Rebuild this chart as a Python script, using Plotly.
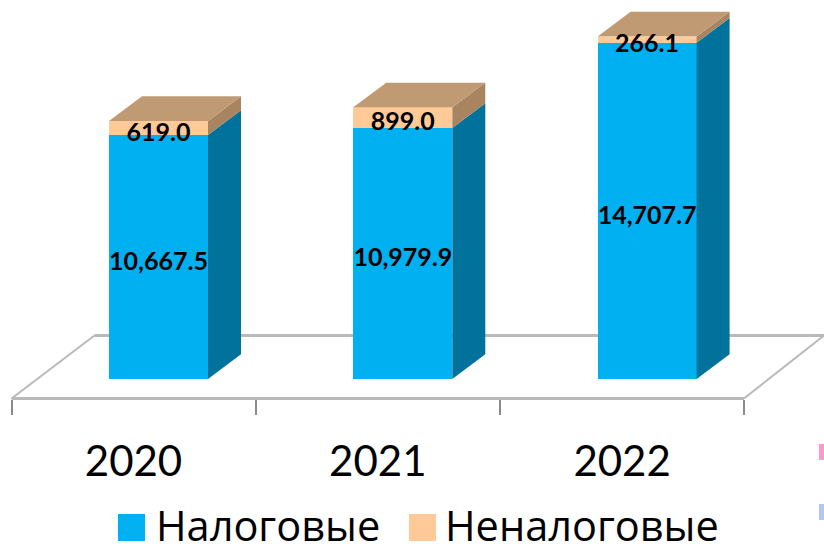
import plotly.graph_objects as go

categories = ["2020", "2021", "2022"]
tax = [10667.5, 10979.9, 14707.7]
nontax = [619.0, 899.0, 266.1]
tax_labels = ["10,667.5", "10,979.9", "14,707.7"]
nontax_labels = ["619.0", "899.0", "266.1"]
series_names = ["Налоговые", "Неналоговые"]

W, H = 824, 544
X0, XS = 158.5, 244.3       # px of first bar centre, px per category
Y0, YS = 379.0, 0.02287     # px of value zero, px per value unit
BAR = 99.0
DEPTH_X, DEPTH_Y = 33.0, 24.7
BLUE, BLUE_SIDE = "#00B0F0", "#00729C"
ORANGE, ORANGE_SIDE, ORANGE_TOP = "#FFC998", "#A88560", "#C09A72"
FONT = "Lato, Open Sans, sans-serif"
LEGEND_FONT = "Open Sans, Lato, sans-serif"

dx, dy = DEPTH_X / XS, DEPTH_Y / YS
bw = BAR / XS
xs = list(range(len(categories)))
px_x = lambda p: (p - X0) / XS
px_y = lambda p: (Y0 - p) / YS


def faces(bases, tops, kind):
    fx, fy = [], []
    for x, b, t in zip(xs, bases, tops):
        r = x + bw / 2
        l = x - bw / 2
        if kind == "side":
            fx += [r, r + dx, r + dx, r, r, None]
            fy += [b, b + dy, t + dy, t, b, None]
        else:
            fx += [l, r, r + dx, l + dx, l, None]
            fy += [t, t, t + dy, t + dy, t, None]
    return fx, fy


totals = [a + b for a, b in zip(tax, nontax)]
zeros = [0] * len(tax)

fig = go.Figure()
fig.add_bar(x=xs, y=tax, width=bw, marker=dict(color=BLUE, line_width=0), name=series_names[0], showlegend=False)
fig.add_bar(x=xs, y=nontax, width=bw, marker=dict(color=ORANGE, line_width=0), name=series_names[1], showlegend=False)

for (bases, tops, kind, col) in [
    (zeros, tax, "side", BLUE_SIDE),
    (tax, totals, "side", ORANGE_SIDE),
    (totals, totals, "top", ORANGE_TOP),
]:
    fx, fy = faces(bases, tops, kind)
    fig.add_scatter(x=fx, y=fy, mode="lines", fill="toself", fillcolor=col,
                    line=dict(width=0, color=col), hoverinfo="skip", showlegend=False)

label_font = dict(family=FONT, size=25, color="black", weight="bold")
LABEL_DROP = 6.5 / YS
fig.add_scatter(x=xs, y=[v / 2 - LABEL_DROP for v in tax], mode="text", text=tax_labels,
                textfont=label_font, textposition="middle center", showlegend=False)
fig.add_scatter(x=xs, y=[a + b / 2 - LABEL_DROP for a, b in zip(tax, nontax)], mode="text", text=nontax_labels,
                textfont=label_font, textposition="middle center", showlegend=False)

# floor, drawn beneath the bars
fl_l, fl_r = px_x(11.5), px_x(744.0)
fl_y = px_y(398.5)
back_y = px_y(335.5)
back_l, back_r = px_x(94.5), px_x(824.0)
GRAY = "#B9B9B9"
shapes = [
    dict(type="line", layer="below", x0=back_l, x1=back_r, y0=back_y, y1=back_y, line=dict(color=GRAY, width=3)),
    dict(type="line", layer="below", x0=fl_l, x1=back_l, y0=fl_y, y1=back_y, line=dict(color=GRAY, width=2)),
    dict(type="line", layer="below", x0=fl_r, x1=back_r, y0=fl_y, y1=back_y, line=dict(color=GRAY, width=2)),
    dict(type="line", layer="below", x0=fl_l, x1=fl_r, y0=fl_y, y1=fl_y, line=dict(color=GRAY, width=3)),
]


# legend keys and stray marks at the right edge
def rect(x0, x1, y0, y1, col):
    return dict(type="rect", xref="paper", yref="paper", x0=x0 / W, x1=x1 / W,
                y0=1 - y1 / H, y1=1 - y0 / H, fillcolor=col, line_width=0)


shapes += [rect(118, 145, 514, 541, BLUE), rect(409, 436, 514, 541, ORANGE),
           rect(819, 824, 444, 460, "#FF99CC"), rect(819, 824, 504, 520, "#B4C7F0")]

annotations = [
    dict(xref="paper", yref="paper", x=154 / W, y=1 - 525 / H, text=series_names[0], showarrow=False,
         xanchor="left", yanchor="middle", font=dict(family=LEGEND_FONT, size=41.5, color="black")),
    dict(xref="paper", yref="paper", x=443 / W, y=1 - 525 / H, text=series_names[1], showarrow=False,
         xanchor="left", yanchor="middle", font=dict(family=LEGEND_FONT, size=41.5, color="black")),
]

band_shift = 25 / XS
boundaries = [px_x(11.5) + i for i in range(len(categories) + 1)]

fig.update_layout(
    width=W, height=H, margin=dict(l=0, r=0, t=0, b=0), barmode="stack",
    paper_bgcolor="white", plot_bgcolor="white", showlegend=False,
    shapes=shapes, annotations=annotations,
    xaxis=dict(range=[px_x(0), px_x(W)], anchor="free", position=1 - 398.5 / H, side="bottom",
               tickmode="array", tickvals=[x - band_shift for x in xs], ticktext=categories,
               ticks="", ticklabelstandoff=34, showgrid=False, zeroline=False,
               tickfont=dict(family=FONT, size=42, color="black"),
               showline=False,
               minor=dict(tickmode="array", tickvals=boundaries, ticks="outside", ticklen=15,
                          tickwidth=2, tickcolor="#8C8C8C", showgrid=False)),
    yaxis=dict(range=[px_y(H), px_y(0)], visible=False),
)
fig.write_html("out.html", config=dict(displayModeBar=False), post_script="document.body.style.margin='0';")
